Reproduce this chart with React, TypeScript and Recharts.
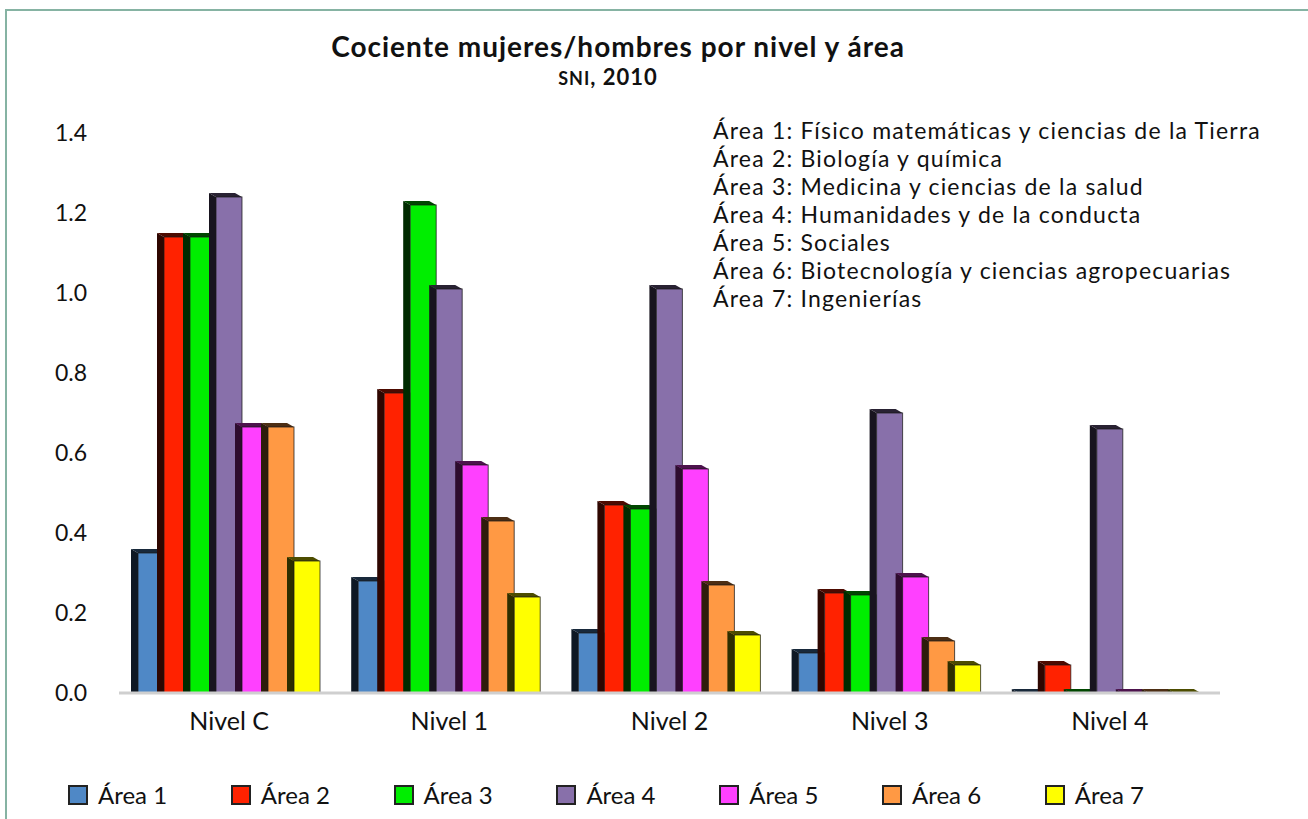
import { Bar, BarChart, XAxis, YAxis } from "recharts";

const niveles = ["Nivel C", "Nivel 1", "Nivel 2", "Nivel 3", "Nivel 4"];

// cociente mujeres/hombres
const area1 = [0.35, 0.28, 0.15, 0.1, 0];
const area2 = [1.14, 0.75, 0.47, 0.25, 0.07];
const area3 = [1.14, 1.22, 0.46, 0.245, 0];
const area4 = [1.24, 1.01, 1.01, 0.7, 0.66];
const area5 = [0.665, 0.57, 0.56, 0.29, 0];
const area6 = [0.665, 0.43, 0.27, 0.13, 0];
const area7 = [0.33, 0.24, 0.145, 0.07, 0];

const areaNames = ["Área 1", "Área 2", "Área 3", "Área 4", "Área 5", "Área 6", "Área 7"];
const areaColors = ["#4f88c6", "#ff2200", "#00ee00", "#8870aa", "#ff40ff", "#ff9944", "#ffff00"];
const areaDescriptions = [
  "Área 1: Físico matemáticas y ciencias de la Tierra",
  "Área 2: Biología y química",
  "Área 3: Medicina y ciencias de la salud",
  "Área 4: Humanidades y de la conducta",
  "Área 5: Sociales",
  "Área 6: Biotecnología y ciencias agropecuarias",
  "Área 7: Ingenierías",
];
const yTicks = [0, 0.2, 0.4, 0.6, 0.8, 1.0, 1.2, 1.4];

const series = [area1, area2, area3, area4, area5, area6, area7];
const data = niveles.map((nivel, i) => {
  const row: Record<string, string | number> = { nivel };
  series.forEach((s, k) => {
    row[`a${k + 1}`] = s[i];
  });
  return row;
});

const FONT = "Lato, 'Open Sans', sans-serif";

function darken(hex: string, f: number) {
  const n = parseInt(hex.slice(1), 16);
  const r = Math.round(((n >> 16) & 255) * f);
  const g = Math.round(((n >> 8) & 255) * f);
  const b = Math.round((n & 255) * f);
  return `rgb(${r},${g},${b})`;
}

// caja con profundidad hacia arriba a la izquierda, como el original en 3D
function Box3D(props: any) {
  const { x, y, width, height, color } = props;
  if (x == null || y == null) return null;
  const dx = 7;
  const dy = 4;
  const side = darken(color, 0.18);
  const top = darken(color, 0.3);
  return (
    <g>
      <polygon
        points={`${x},${y} ${x - dx},${y - dy} ${x - dx},${y + height} ${x},${y + height}`}
        fill={side}
      />
      <polygon
        points={`${x},${y} ${x - dx},${y - dy} ${x + width - dx},${y - dy} ${x + width},${y}`}
        fill={top}
      />
      <rect
        x={x}
        y={y}
        width={width}
        height={height}
        fill={color}
        stroke="#1a1a1a"
        strokeOpacity={0.75}
        strokeWidth={1}
      />
    </g>
  );
}

export default function App() {
  return (
    <div
      style={{
        position: "absolute",
        left: 0,
        top: 0,
        width: 1308,
        height: 819,
        background: "#fff",
        fontFamily: FONT,
        color: "#111",
        overflow: "hidden",
      }}
    >
      <div
        style={{
          position: "absolute",
          left: 5,
          top: 9,
          width: 1320,
          height: 830,
          borderLeft: "2px solid #86b3a3",
          borderTop: "2px solid #86b3a3",
        }}
      />
      <div
        style={{
          position: "absolute",
          left: 0,
          top: 29,
          width: 1236,
          textAlign: "center",
          fontWeight: 700,
          fontSize: 28,
          lineHeight: "34px",
          letterSpacing: 1,
        }}
      >
        Cociente mujeres/hombres por nivel y área
      </div>
      <div
        style={{
          position: "absolute",
          left: 0,
          top: 63,
          width: 1216,
          textAlign: "center",
          fontWeight: 700,
          fontSize: 22,
          lineHeight: "27px",
          letterSpacing: 1,
        }}
      >
        <span style={{ fontSize: 18 }}>SNI</span>, 2010
      </div>
      <div
        style={{
          position: "absolute",
          left: 713,
          top: 116,
          fontSize: 23,
          lineHeight: "28px",
          letterSpacing: 1.2,
          whiteSpace: "nowrap",
        }}
      >
        {areaDescriptions.map((d) => (
          <div key={d}>{d}</div>
        ))}
      </div>

      <div style={{ position: "absolute", left: 0, top: 0 }}>
        <BarChart
          width={1308}
          height={819}
          data={data}
          margin={{ top: 133, right: 88, bottom: 86, left: 0 }}
          barCategoryGap={19}
          barGap={0}
        >
          <YAxis
            width={119}
            domain={[0, 1.4]}
            ticks={yTicks}
            tickFormatter={(v: number) => v.toFixed(1)}
            axisLine={false}
            tickLine={false}
            tickSize={0}
            tickMargin={32}
            tick={{ fontSize: 23, fill: "#111", fontFamily: FONT }}
          />
          <XAxis
            dataKey="nivel"
            height={40}
            axisLine={{ stroke: "#cfcfcf", strokeWidth: 3 }}
            tickLine={false}
            tickSize={0}
            tickMargin={19}
            tick={{ fontSize: 25, fill: "#111", fontFamily: FONT }}
          />
          {areaNames.map((name, k) => (
            <Bar
              key={name}
              dataKey={`a${k + 1}`}
              name={name}
              isAnimationActive={false}
              shape={(p: any) => <Box3D {...p} color={areaColors[k]} />}
            />
          ))}
        </BarChart>
      </div>

      {areaNames.map((name, k) => (
        <div
          key={name}
          style={{
            position: "absolute",
            left: 68 + k * 162.8,
            top: 781,
            display: "flex",
            alignItems: "center",
            fontSize: 24,
            lineHeight: "28px",
            whiteSpace: "nowrap",
          }}
        >
          <span
            style={{
              display: "inline-block",
              width: 16,
              height: 16,
              background: areaColors[k],
              border: "2px solid #222",
              marginRight: 10,
            }}
          />
          {name}
        </div>
      ))}
    </div>
  );
}
